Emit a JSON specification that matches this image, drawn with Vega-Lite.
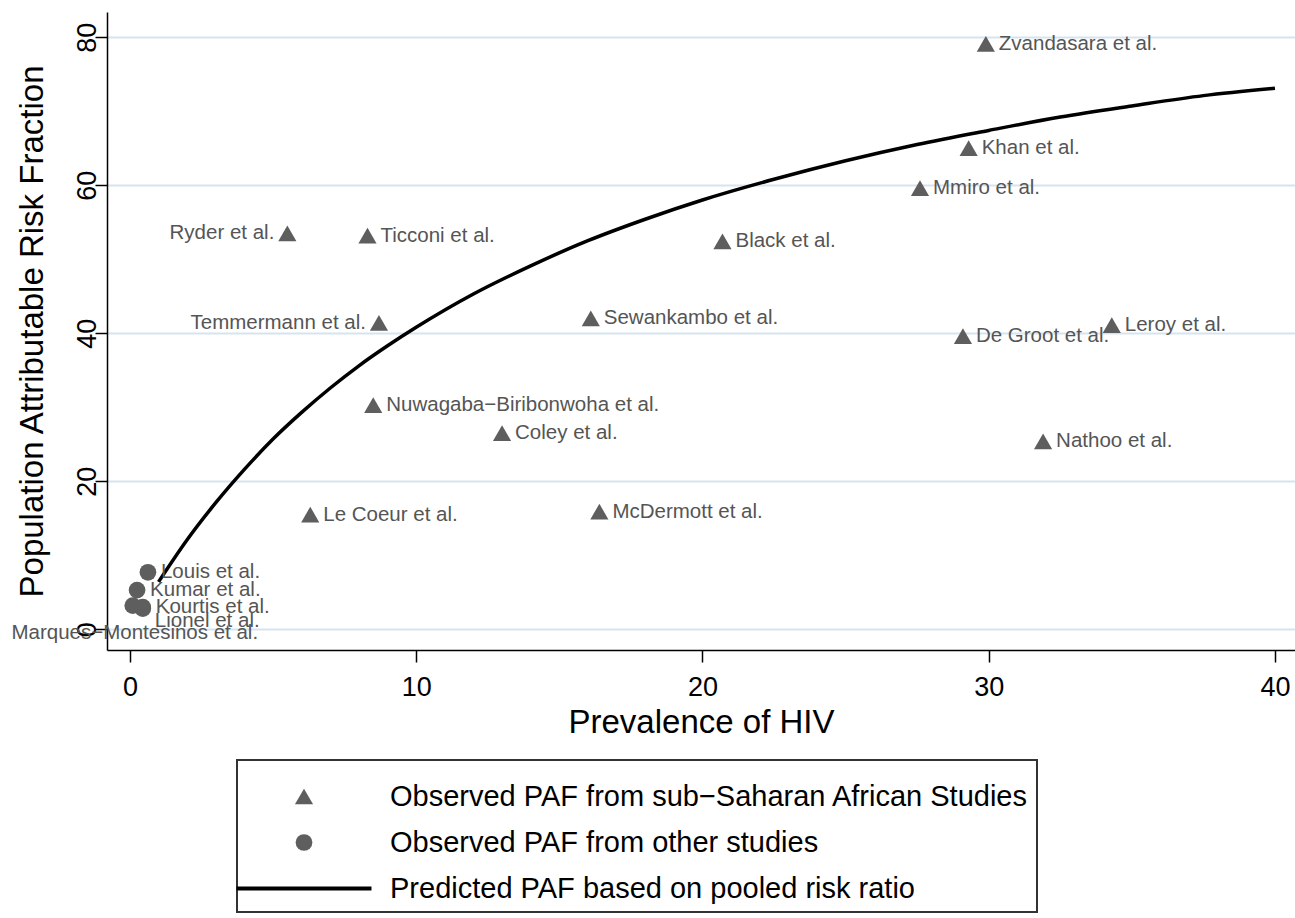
{
  "$schema": "https://vega.github.io/schema/vega-lite/v6.json",
  "autosize": "none",
  "width": 1188,
  "height": 638,
  "padding": {"left": 107, "top": 12, "right": 0, "bottom": 268},
  "background": "white",
  "config": {
    "view": {"stroke": null},
    "font": "Liberation Sans"
  },
  "datasets": {
    "studies": [
      {"name": "Zvandasara et al.", "prevalence": 29.9, "paf": 79.1, "group": "Observed PAF from sub−Saharan African Studies"},
      {"name": "Khan et al.", "prevalence": 29.3, "paf": 65.0, "group": "Observed PAF from sub−Saharan African Studies"},
      {"name": "Mmiro et al.", "prevalence": 27.6, "paf": 59.6, "group": "Observed PAF from sub−Saharan African Studies"},
      {"name": "Ryder et al.", "prevalence": 5.5, "paf": 53.5, "group": "Observed PAF from sub−Saharan African Studies"},
      {"name": "Ticconi et al.", "prevalence": 8.3, "paf": 53.2, "group": "Observed PAF from sub−Saharan African Studies"},
      {"name": "Black et al.", "prevalence": 20.7, "paf": 52.4, "group": "Observed PAF from sub−Saharan African Studies"},
      {"name": "Temmermann et al.", "prevalence": 8.7, "paf": 41.4, "group": "Observed PAF from sub−Saharan African Studies"},
      {"name": "Sewankambo et al.", "prevalence": 16.1, "paf": 42.0, "group": "Observed PAF from sub−Saharan African Studies"},
      {"name": "De Groot et al.", "prevalence": 29.1, "paf": 39.6, "group": "Observed PAF from sub−Saharan African Studies"},
      {"name": "Leroy et al.", "prevalence": 34.3, "paf": 41.1, "group": "Observed PAF from sub−Saharan African Studies"},
      {"name": "Nuwagaba−Biribonwoha et al.", "prevalence": 8.5, "paf": 30.3, "group": "Observed PAF from sub−Saharan African Studies"},
      {"name": "Coley et al.", "prevalence": 13.0, "paf": 26.5, "group": "Observed PAF from sub−Saharan African Studies"},
      {"name": "Nathoo et al.", "prevalence": 31.9, "paf": 25.4, "group": "Observed PAF from sub−Saharan African Studies"},
      {"name": "Le Coeur et al.", "prevalence": 6.3, "paf": 15.5, "group": "Observed PAF from sub−Saharan African Studies"},
      {"name": "McDermott et al.", "prevalence": 16.4, "paf": 15.9, "group": "Observed PAF from sub−Saharan African Studies"},
      {"name": "Louis et al.", "prevalence": 0.63, "paf": 7.7, "group": "Observed PAF from other studies"},
      {"name": "Kumar et al.", "prevalence": 0.25, "paf": 5.3, "group": "Observed PAF from other studies"},
      {"name": "Kourtis et al.", "prevalence": 0.45, "paf": 3.0, "group": "Observed PAF from other studies"},
      {"name": "Lionel et al.", "prevalence": 0.45, "paf": 2.8, "group": "Observed PAF from other studies"},
      {"name": "Marques−Montesinos et al.", "prevalence": 0.1, "paf": 3.2, "group": "Observed PAF from other studies"}
    ],
    "curve": [
      {"prevalence": 1, "paf": 6.4, "group": "Predicted PAF based on pooled risk ratio"},
      {"prevalence": 2, "paf": 12.1, "group": "Predicted PAF based on pooled risk ratio"},
      {"prevalence": 3, "paf": 17.1, "group": "Predicted PAF based on pooled risk ratio"},
      {"prevalence": 4, "paf": 21.6, "group": "Predicted PAF based on pooled risk ratio"},
      {"prevalence": 5, "paf": 25.7, "group": "Predicted PAF based on pooled risk ratio"},
      {"prevalence": 6, "paf": 29.3, "group": "Predicted PAF based on pooled risk ratio"},
      {"prevalence": 7, "paf": 32.6, "group": "Predicted PAF based on pooled risk ratio"},
      {"prevalence": 8, "paf": 35.6, "group": "Predicted PAF based on pooled risk ratio"},
      {"prevalence": 9, "paf": 38.3, "group": "Predicted PAF based on pooled risk ratio"},
      {"prevalence": 10, "paf": 40.8, "group": "Predicted PAF based on pooled risk ratio"},
      {"prevalence": 12, "paf": 45.3, "group": "Predicted PAF based on pooled risk ratio"},
      {"prevalence": 14, "paf": 49.1, "group": "Predicted PAF based on pooled risk ratio"},
      {"prevalence": 16, "paf": 52.5, "group": "Predicted PAF based on pooled risk ratio"},
      {"prevalence": 18, "paf": 55.4, "group": "Predicted PAF based on pooled risk ratio"},
      {"prevalence": 20, "paf": 58.0, "group": "Predicted PAF based on pooled risk ratio"},
      {"prevalence": 22.5, "paf": 60.8, "group": "Predicted PAF based on pooled risk ratio"},
      {"prevalence": 25, "paf": 63.3, "group": "Predicted PAF based on pooled risk ratio"},
      {"prevalence": 27.5, "paf": 65.5, "group": "Predicted PAF based on pooled risk ratio"},
      {"prevalence": 30, "paf": 67.4, "group": "Predicted PAF based on pooled risk ratio"},
      {"prevalence": 32.5, "paf": 69.2, "group": "Predicted PAF based on pooled risk ratio"},
      {"prevalence": 35, "paf": 70.7, "group": "Predicted PAF based on pooled risk ratio"},
      {"prevalence": 37.5, "paf": 72.1, "group": "Predicted PAF based on pooled risk ratio"},
      {"prevalence": 40, "paf": 73.1, "group": "Predicted PAF based on pooled risk ratio"}
    ]
  },
  "encoding": {
    "x": {
      "field": "prevalence", "type": "quantitative",
      "scale": {"domain": [-0.8, 40.7], "nice": false, "zero": false},
      "axis": {
        "title": "Prevalence of HIV",
        "values": [0, 10, 20, 30, 40],
        "grid": false,
        "domainColor": "#000", "domainWidth": 1.5,
        "tickColor": "#000", "tickWidth": 1.5, "tickSize": 12,
        "labelFont": "Liberation Sans", "labelFontSize": 27, "labelColor": "#000", "labelPadding": 12,
        "titleFont": "Liberation Sans", "titleFontSize": 33, "titleFontWeight": "normal", "titleColor": "#000", "titlePadding": 6
      }
    },
    "y": {
      "field": "paf", "type": "quantitative",
      "scale": {"domain": [-2.8, 83.4], "nice": false, "zero": false},
      "axis": {
        "title": "Population Attributable Risk Fraction",
        "values": [0, 20, 40, 60, 80],
        "grid": true, "gridColor": "#d6e4ef", "gridWidth": 2,
        "domainColor": "#000", "domainWidth": 1.5,
        "tickColor": "#000", "tickWidth": 1.5, "tickSize": 12,
        "labelAngle": -90, "labelAlign": "center", "labelBaseline": "alphabetic",
        "labelFont": "Liberation Sans", "labelFontSize": 27, "labelColor": "#000", "labelPadding": 0,
        "titleFont": "Liberation Sans", "titleFontSize": 33, "titleFontWeight": "normal", "titleColor": "#000", "titlePadding": 24
      }
    }
  },
  "layer": [
    {
      "data": {"name": "studies"},
      "mark": {"type": "point", "filled": true, "opacity": 1},
      "encoding": {
        "color": {
          "field": "group", "type": "nominal",
          "scale": {
            "domain": ["Observed PAF from sub−Saharan African Studies", "Observed PAF from other studies", "Predicted PAF based on pooled risk ratio"],
            "range": ["#5e5e5e", "#5e5e5e", "#000000"]
          },
          "legend": {
            "title": " ", "titleFontSize": 12, "titlePadding": 2,
            "orient": "none", "legendX": 130, "legendY": 748,
            "direction": "vertical",
            "strokeColor": "#333", "fillColor": "white",
            "padding": 8, "rowPadding": 16,
            "symbolSize": 200,
            "labelFont": "Liberation Sans", "labelFontSize": 29, "labelColor": "#000", "labelLimit": 1000,
            "labelBaseline": "middle",
            "symbolOpacity": 1,
            "encode": {
              "legend": {"update": {"strokeWidth": {"value": 2}}},
              "symbols": {
                "update": {
                  "x": {"value": 59},
                  "stroke": {"signal": "datum.value === 'Predicted PAF based on pooled risk ratio' ? '#000' : 'transparent'"},
                  "strokeWidth": {"signal": "datum.value === 'Predicted PAF based on pooled risk ratio' ? 4 : 0"}
                }
              },
              "labels": {
                "update": {"x": {"value": 145}}
              }
            }
          }
        },
        "shape": {
          "field": "group", "type": "nominal",
          "scale": {
            "domain": ["Observed PAF from sub−Saharan African Studies", "Observed PAF from other studies", "Predicted PAF based on pooled risk ratio"],
            "range": ["triangle-up", "circle", "M-8.9,0H8.9"]
          }
        },
        "size": {
          "field": "group", "type": "nominal",
          "scale": {
            "domain": ["Observed PAF from sub−Saharan African Studies", "Observed PAF from other studies", "Predicted PAF based on pooled risk ratio"],
            "range": [330, 230, 100]
          },
          "legend": null
        }
      }
    },
    {
      "data": {"name": "curve"},
      "mark": {"type": "line", "color": "#000", "strokeWidth": 3.5, "interpolate": "monotone"},
      "encoding": {
        "color": {"field": "group", "type": "nominal"}
      }
    },
    {
      "data": {"name": "studies"},
      "transform": [{"filter": {"not": {"field": "name", "oneOf": ["Ryder et al.", "Temmermann et al.", "Lionel et al.", "Marques−Montesinos et al."]}}}],
      "mark": {"type": "text", "align": "left", "baseline": "middle", "dx": 13, "font": "Liberation Sans", "fontSize": 20.5, "color": "#555"},
      "encoding": {"text": {"field": "name"}}
    },
    {
      "data": {"name": "studies"},
      "transform": [{"filter": {"field": "name", "oneOf": ["Ryder et al.", "Temmermann et al."]}}],
      "mark": {"type": "text", "align": "right", "baseline": "middle", "dx": -13, "font": "Liberation Sans", "fontSize": 20.5, "color": "#555"},
      "encoding": {"text": {"field": "name"}}
    },
    {
      "data": {"name": "studies"},
      "transform": [{"filter": {"field": "name", "equal": "Lionel et al."}}],
      "mark": {"type": "text", "align": "left", "baseline": "middle", "dx": 12, "dy": 12, "font": "Liberation Sans", "fontSize": 20.5, "color": "#555"},
      "encoding": {"text": {"field": "name"}}
    },
    {
      "data": {"name": "studies"},
      "transform": [{"filter": {"field": "name", "equal": "Marques−Montesinos et al."}}],
      "mark": {"type": "text", "align": "center", "baseline": "middle", "dx": 2, "dy": 27, "font": "Liberation Sans", "fontSize": 20.5, "color": "#555"},
      "encoding": {"text": {"field": "name"}}
    }
  ]
}
